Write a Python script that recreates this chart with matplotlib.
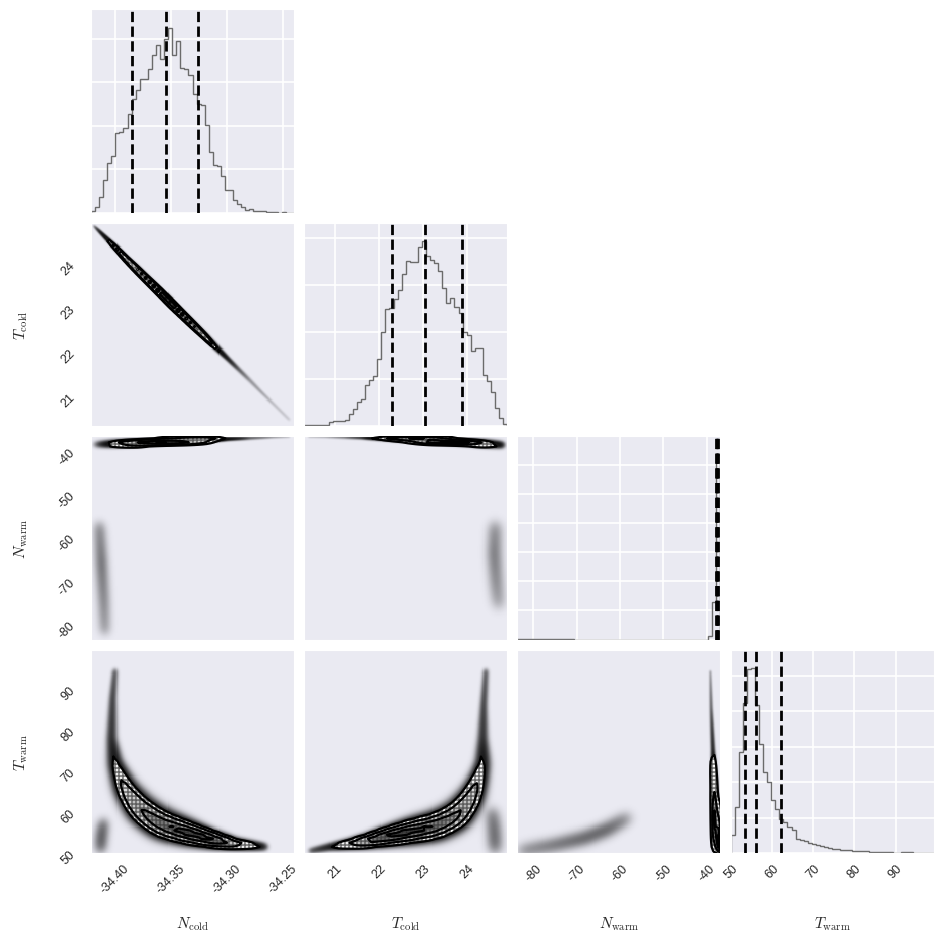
import numpy as np
import matplotlib
matplotlib.use("Agg")
import matplotlib.pyplot as plt
import seaborn as sns
from matplotlib.colors import LinearSegmentedColormap
from matplotlib.ticker import FixedLocator, MultipleLocator

sns.set_style("darkgrid")
plt.rcParams['font.family'] = ['Liberation Sans', 'DejaVu Sans']
plt.rcParams['mathtext.fontset'] = 'cm'

# ------------------------------------------------------------------ data
labels = [r"$N_{\rm cold}$", r"$T_{\rm cold}$", r"$N_{\rm warm}$", r"$T_{\rm warm}$"]
ranges = [(-34.4214, -34.2402), (20.295, 24.91), (-83.7, -36.8), (49.8, 99.3)]
tick_vals = [[-34.40, -34.35, -34.30, -34.25], [21, 22, 23, 24],
             [-80, -70, -60, -50, -40], [50, 60, 70, 80, 90]]
tick_text = [["-34.40", "-34.35", "-34.30", "-34.25"], ["21", "22", "23", "24"],
             ["-80", "-70", "-60", "-50", "-40"], ["50", "60", "70", "80", "90"]]
quantiles = [[-34.3848, -34.3545, -34.3259], [22.30, 23.05, 23.89],
             [-37.8, -37.6, -37.35], [53.4, 56.1, 62.0]]

# 1-D marginal histograms (50 bins spanning each axis range)
hist_ncold = [4, 18, 46, 99, 149, 171, 239, 241, 254, 296, 341, 366, 401, 399, 431, 471, 503, 461, 521, 553,
              471, 513, 433, 431, 411, 356, 326, 321, 261, 181, 143, 139, 109, 69, 69, 39, 26, 16, 8, 11,
              6, 6, 5, 3, 1, 1, 0, 1, 0, 0]
hist_tcold = [2, 2, 2, 2, 2, 3, 12, 14, 16, 16, 18, 37, 52, 72, 80, 123, 137, 152, 202, 282,
              352, 355, 383, 410, 458, 495, 492, 492, 537, 555, 510, 500, 490, 465, 415, 370, 385, 358, 340, 282,
              275, 225, 235, 235, 155, 135, 102, 55, 25, 5]
hist_nwarm = [1, 2, 1, 1, 2, 1, 1, 2, 2, 1, 1, 2, 1, 1, 0, 0, 0, 0, 0, 0,
              0, 0, 0, 0, 0, 0, 0, 0, 0, 0, 0, 0, 0, 0, 0, 0, 0, 0, 0, 0,
              0, 0, 0, 0, 0, 0, 0, 12, 114, 556]
hist_twarm = [53, 138, 303, 448, 550, 553, 443, 325, 243, 213, 158, 133, 103, 93, 78, 68, 43, 40, 35, 31,
              26, 23, 20, 18, 15, 13, 11, 10, 10, 8, 7, 6, 5, 5, 4, 3, 3, 2, 2, 2,
              1, 1, 2, 3, 2, 1, 1, 1, 1, 1]
hist_grid_step = [130, 141, 87.5, 106]

# 2-D panels: ridge lines of the sample clouds (x, y, relative mass, width as axis fraction)
tcnc_x = [-34.419, -34.41, -34.40, -34.39, -34.38, -34.37, -34.36, -34.35, -34.34, -34.33,
          -34.32, -34.31, -34.30, -34.29, -34.28, -34.27, -34.26, -34.245]
tcnc_y = [24.825, 24.60, 24.35, 24.09, 23.84, 23.59, 23.34, 23.08, 22.83, 22.58,
          22.33, 22.07, 21.82, 21.57, 21.32, 21.06, 20.81, 20.43]
tcnc_m = [6, 80, 200, 260, 364, 421, 484, 537, 433, 372, 290, 143, 69, 30, 15, 10, 6, 4]
tcnc_s = [0.005, 0.006, 0.007, 0.007, 0.008, 0.008, 0.008, 0.008, 0.008, 0.008,
          0.008, 0.008, 0.007, 0.007, 0.007, 0.006, 0.006, 0.006]

nwnc_x = [-34.419, -34.40, -34.38, -34.36, -34.34, -34.32, -34.30, -34.28, -34.26, -34.245]
nwnc_y = [-38.8, -38.6, -38.4, -38.1, -37.9, -37.7, -37.5, -37.3, -37.1, -37.0]
nwnc_m = [6, 200, 364, 484, 433, 290, 69, 20, 8, 4]
nwnc_s = [0.011, 0.011, 0.010, 0.009, 0.008, 0.007, 0.006, 0.006, 0.005, 0.005]
nwnc2_x = [-34.414, -34.412, -34.410, -34.409]
nwnc2_y = [-57.0, -66.0, -75.0, -82.0]
nwnc2_m = [40, 60, 45, 30]
nwnc2_s = [0.022, 0.022, 0.022, 0.022]

nwtc_x = [20.4, 20.8, 21.2, 21.6, 22.0, 22.4, 22.8, 23.2, 23.6, 24.0, 24.4, 24.8]
nwtc_y = [-37.0, -37.05, -37.1, -37.2, -37.3, -37.45, -37.6, -37.8, -38.0, -38.3, -38.6, -38.9]
nwtc_m = [4, 6, 16, 37, 137, 282, 410, 537, 490, 385, 275, 100]
nwtc_s = [0.005, 0.005, 0.006, 0.006, 0.007, 0.008, 0.008, 0.009, 0.010, 0.010, 0.011, 0.011]
nwtc2_x = [24.62, 24.60, 24.65, 24.70]
nwtc2_y = [-57.0, -64.0, -71.0, -76.0]
nwtc2_m = [50, 70, 55, 35]
nwtc2_s = [0.026, 0.026, 0.026, 0.026]

twnc_x = [-34.400, -34.402, -34.403, -34.400, -34.391, -34.378, -34.360, -34.3375, -34.315, -34.293, -34.266]
twnc_y = [94.2, 87.4, 77.6, 71.5, 65.4, 60.5, 56.9, 54.9, 53.2, 52.0, 51.3]
twnc_m = [0.02, 0.035, 0.06, 0.14, 0.40, 0.75, 1.0, 1.0, 0.7, 0.25, 0.04]
twnc_s = [0.010, 0.012, 0.016, 0.022, 0.030, 0.036, 0.036, 0.030, 0.022, 0.016, 0.012]
twnc2_x = [-34.413, -34.412, -34.410]
twnc2_y = [50.5, 54.0, 57.5]
twnc2_m = [0.04, 0.05, 0.035]
twnc2_s = [0.022, 0.022, 0.022]

twtc_x = [24.41, 24.36, 24.34, 24.34, 24.23, 24.07, 23.77, 23.32, 22.77, 22.25, 21.73, 21.34, 20.89, 20.43]
twtc_y = [94.2, 85.7, 77.6, 71.5, 67.1, 63.0, 58.8, 56.4, 55.2, 54.0, 52.7, 52.0, 51.3, 50.3]
twtc_m = [0.02, 0.035, 0.06, 0.14, 0.30, 0.55, 0.85, 1.0, 1.0, 0.8, 0.45, 0.2, 0.06, 0.02]
twtc_s = [0.010, 0.012, 0.016, 0.022, 0.026, 0.032, 0.036, 0.034, 0.030, 0.024, 0.018, 0.015, 0.012, 0.010]
twtc2_x = [24.62, 24.60, 24.55]
twtc2_y = [50.5, 55.0, 60.0]
twtc2_m = [0.045, 0.05, 0.035]
twtc2_s = [0.026, 0.026, 0.026]

twnw_x = [-39.3, -39.1, -38.7, -38.3, -37.9, -37.6, -37.3, -37.1]
twnw_y = [94.0, 85.0, 75.0, 65.0, 58.0, 54.0, 51.0, 50.0]
twnw_m = [0.01, 0.03, 0.08, 0.30, 0.80, 1.0, 0.8, 0.5]
twnw_s = [0.005, 0.006, 0.007, 0.009, 0.010, 0.011, 0.012, 0.012]
twnw2_x = [-83.0, -75.0, -68.0, -63.0, -58.0]
twnw2_y = [50.3, 51.8, 53.5, 55.5, 58.5]
twnw2_m = [0.07, 0.11, 0.14, 0.14, 0.07]
twnw2_s = [0.026, 0.026, 0.026, 0.026, 0.026]

# ------------------------------------------------------------------ helpers
hists = [hist_ncold, hist_tcold, hist_nwarm, hist_twarm]
panel_ridges = {
    (1, 0): [(tcnc_x, tcnc_y, tcnc_m, tcnc_s)],
    (2, 0): [(nwnc_x, nwnc_y, nwnc_m, nwnc_s), (nwnc2_x, nwnc2_y, nwnc2_m, nwnc2_s)],
    (2, 1): [(nwtc_x, nwtc_y, nwtc_m, nwtc_s), (nwtc2_x, nwtc2_y, nwtc2_m, nwtc2_s)],
    (3, 0): [(twnc_x, twnc_y, twnc_m, twnc_s), (twnc2_x, twnc2_y, twnc2_m, twnc2_s)],
    (3, 1): [(twtc_x, twtc_y, twtc_m, twtc_s), (twtc2_x, twtc2_y, twtc2_m, twtc2_s)],
    (3, 2): [(twnw_x, twnw_y, twnw_m, twnw_s), (twnw2_x, twnw2_y, twnw2_m, twnw2_s)],
}
LEVELS = 1.0 - np.exp(-0.5 * np.array([0.5, 1.0, 1.5, 2.0]) ** 2)
NF = 200
NB = 50
HALO_C = 120.0


def ridge_density(ridge, rx, ry):
    xs, ys, ms, ss = ridge
    g = (np.arange(NF) + 0.5) / NF
    H = np.zeros((NF, NF))
    xf = (np.asarray(xs, float) - rx[0]) / (rx[1] - rx[0])
    yf = (np.asarray(ys, float) - ry[0]) / (ry[1] - ry[0])
    ms = np.asarray(ms, float)
    ss = np.asarray(ss, float)
    seg = np.hypot(np.diff(xf), np.diff(yf))
    t = np.concatenate([[0.0], np.cumsum(seg)])
    ds = 0.0015
    td = np.arange(0.0, t[-1], ds) + ds / 2
    px = np.interp(td, t, xf)
    py = np.interp(td, t, yf)
    pm = np.interp(td, t, ms)
    ps = np.interp(td, t, ss)
    for k in range(len(td)):
        ex = np.exp(-0.5 * ((g - px[k]) / ps[k]) ** 2)
        ey = np.exp(-0.5 * ((g - py[k]) / ps[k]) ** 2)
        H += (pm[k] * ds / (2 * np.pi * ps[k] ** 2)) * np.outer(ex, ey)
    return H


def corner_levels(H):
    Hf = np.sort(H.ravel())[::-1]
    sm = np.cumsum(Hf)
    sm /= sm[-1]
    V = []
    for v0 in LEVELS:
        sel = Hf[sm <= v0]
        V.append(sel[-1] if len(sel) else Hf[0])
    V = np.sort(np.array(V))
    for k in range(1, len(V)):
        if V[k] <= V[k - 1]:
            V[k] = V[k - 1] * 1.0001 + 1e-12
    return V


dens_cmap = LinearSegmentedColormap.from_list("dens", [(1, 1, 1, 0), (0, 0, 0, 0.8)])
HIST_COLOR = "#6b6b6b"

# ------------------------------------------------------------------ figure
fig, axes = plt.subplots(4, 4, figsize=(9.45, 9.45), dpi=100)
fig.subplots_adjust(left=0.0963, right=0.988, bottom=0.0963, top=0.989, wspace=0.05, hspace=0.05)

for i in range(4):
    for j in range(4):
        ax = axes[i, j]
        if j > i:
            ax.set_visible(False)
            continue
        rx = ranges[j]
        ax.set_xlim(*rx)
        ax.xaxis.set_major_locator(FixedLocator(tick_vals[j]))
        if i == 3:
            ax.set_xticklabels(tick_text[j], rotation=45, fontsize=9)
            ax.set_xlabel(labels[j], fontsize=11)
            ax.xaxis.set_label_coords(0.5, -0.3)
        else:
            ax.tick_params(labelbottom=False)
        ax.tick_params(axis='x', pad=3)

        if i == j:
            h = np.asarray(hists[i], float)
            edges = np.linspace(rx[0], rx[1], len(h) + 1)
            ax.stairs(h, edges, color=HIST_COLOR, lw=1.0, baseline=0)
            ax.set_ylim(0, 1.1 * h.max())
            ax.yaxis.set_major_locator(MultipleLocator(hist_grid_step[i]))
            ax.tick_params(labelleft=False)
            for q in quantiles[i]:
                ax.axvline(q, color='k', ls='--', lw=2, zorder=3)
            ax.grid(True, color='white', lw=1.2)
            continue

        ry = ranges[i]
        ax.set_ylim(*ry)
        ax.grid(False)
        ax.yaxis.set_major_locator(FixedLocator(tick_vals[i]))
        if j == 0:
            ax.set_yticklabels(tick_text[i], rotation=45, fontsize=9, ha='right')
            ax.set_ylabel(labels[i], fontsize=11)
            ax.yaxis.set_label_coords(-0.3, 0.5)
            ax.tick_params(axis='y', pad=6.5)
        else:
            ax.tick_params(labelleft=False)

        ridges = panel_ridges[(i, j)]
        Hmain = ridge_density(ridges[0], rx, ry)
        H = Hmain.copy()
        for r in ridges[1:]:
            H += ridge_density(r, rx, ry)
        # scattered-sample halo
        Hn = H / H.max()
        alpha = np.clip(1.0 - 0.9 ** (HALO_C * Hn), 0, 0.92)
        rgba = np.zeros((NF, NF, 4))
        rgba[..., 3] = alpha.T
        ax.imshow(rgba, extent=[rx[0], rx[1], ry[0], ry[1]], origin='lower', aspect='auto',
                  interpolation='nearest', zorder=1)

        # binned histogram for the contours
        H50 = Hmain.reshape(NB, NF // NB, NB, NF // NB).sum(axis=(1, 3))
        V = corner_levels(H50)
        dx = (rx[1] - rx[0]) / NB
        dy = (ry[1] - ry[0]) / NB
        xc = rx[0] + (np.arange(-1, NB + 1) + 0.5) * dx
        yc = ry[0] + (np.arange(-1, NB + 1) + 0.5) * dy
        H2 = np.pad(H50, 1)
        cf = ax.contourf(xc, yc, H2.T, [V[0], H2.max() * 1.01], colors=['white'], zorder=2,
                         antialiased=False)
        xe = np.linspace(rx[0], rx[1], NB + 1)
        ye = np.linspace(ry[0], ry[1], NB + 1)
        mesh = ax.pcolormesh(xe, ye, H50.T, cmap=dens_cmap, vmin=0, vmax=H50.max(), shading='flat',
                             edgecolors=(0.25, 0.25, 0.25, 0.35), linewidth=0.3, zorder=3)
        mesh.set_clip_path(cf.get_paths()[0], ax.transData)
        ax.contour(xc, yc, H2.T, V, colors='k', linewidths=1.6, zorder=4)
        ax.set_xlim(*rx)
        ax.set_ylim(*ry)

fig.savefig("out.png", dpi=100)
